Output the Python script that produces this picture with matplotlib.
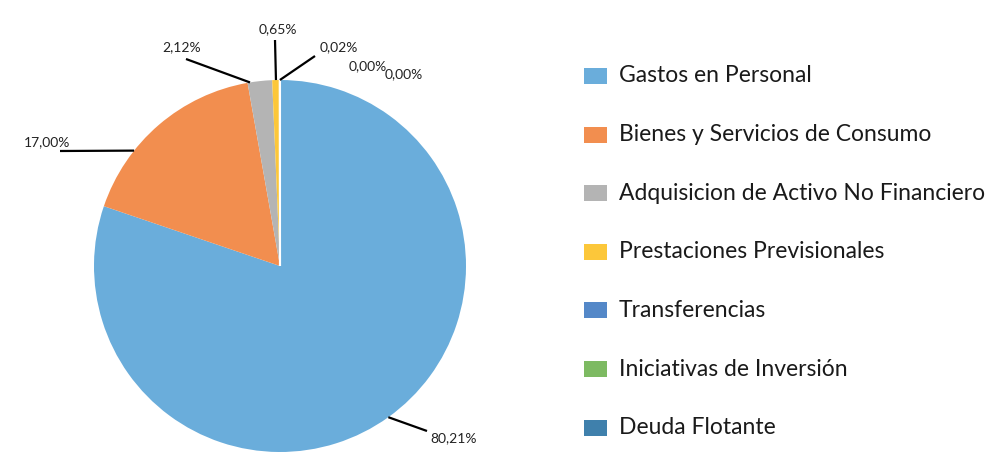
import numpy as np
import matplotlib
matplotlib.use("Agg")
import matplotlib.pyplot as plt
from matplotlib.patches import Rectangle

# data
categorias = ['Gastos en Personal', 'Bienes y Servicios de Consumo',
              'Adquisicion de Activo No Financiero', 'Prestaciones Previsionales',
              'Transferencias', 'Iniciativas de Inversión', 'Deuda Flotante']
porcentajes = [80.21, 17.00, 2.12, 0.65, 0.02, 0.00, 0.00]
colores = ['#6aaddb', '#f28e4f', '#b4b4b4', '#fcc73a', '#5488c8', '#7dba62', '#3f80ac']

# label text positions (pixel coords, top-left origin) and where the leader line hits the wedge
label_pos = [(430, 442, 'left'), (24, 146, 'left'), (162, 51, 'left'),
             (278, 33, 'center'), (320, 51, 'left'), (349, 70, 'left'), (385, 78, 'left')]
anchor_frac = [0.5, 0.32, 0.1, 0.5, 0.5, None, None]
line_start = [(427, 431), (60, 151), (186, 59), (275, 40), (315, 56), None, None]

W, H = 992, 459
plt.rcParams['font.family'] = ['Lato', 'DejaVu Sans']
fig = plt.figure(figsize=(W / 100, H / 100), dpi=100)
ax = fig.add_axes([0, 0, 1, 1])

cx, cy, r = 280, H - 266, 186
wedges, _ = ax.pie(porcentajes, colors=colores, startangle=90, counterclock=False,
                   center=(cx, cy), radius=r, frame=True,
                   wedgeprops=dict(edgecolor='none', linewidth=0))
# the tiny slice shows up as a thin white gap next to the yellow one
wedges[4].set_edgecolor('white')
wedges[4].set_linewidth(1.5)
ax.set_xlim(0, W)
ax.set_ylim(0, H)
ax.set_aspect('equal')
ax.axis('off')

for i, w in enumerate(wedges):
    tx, ty, ha = label_pos[i]
    txt = f"{porcentajes[i]:.2f}".replace('.', ',') + '%'
    ax.text(tx, H - ty, txt, ha=ha, va='baseline', fontsize=10, color='#222222')
    if anchor_frac[i] is not None:
        ang = np.deg2rad(w.theta2 - anchor_frac[i] * (w.theta2 - w.theta1))
        ex, ey = cx + r * np.cos(ang), cy + r * np.sin(ang)
        sx, sy = line_start[i]
        ax.plot([sx, ex], [H - sy, ey], color='black', lw=1.6, solid_capstyle='butt')

# legend
for i, cat in enumerate(categorias):
    yc = 76 + i * 58.6
    ax.add_patch(Rectangle((584, H - yc - 8), 23, 16, facecolor=colores[i], edgecolor='none'))
    ax.text(619, H - yc, cat, ha='left', va='center', fontsize=16.5, color='#1a1a1a')

fig.savefig('out.png', dpi=100)
